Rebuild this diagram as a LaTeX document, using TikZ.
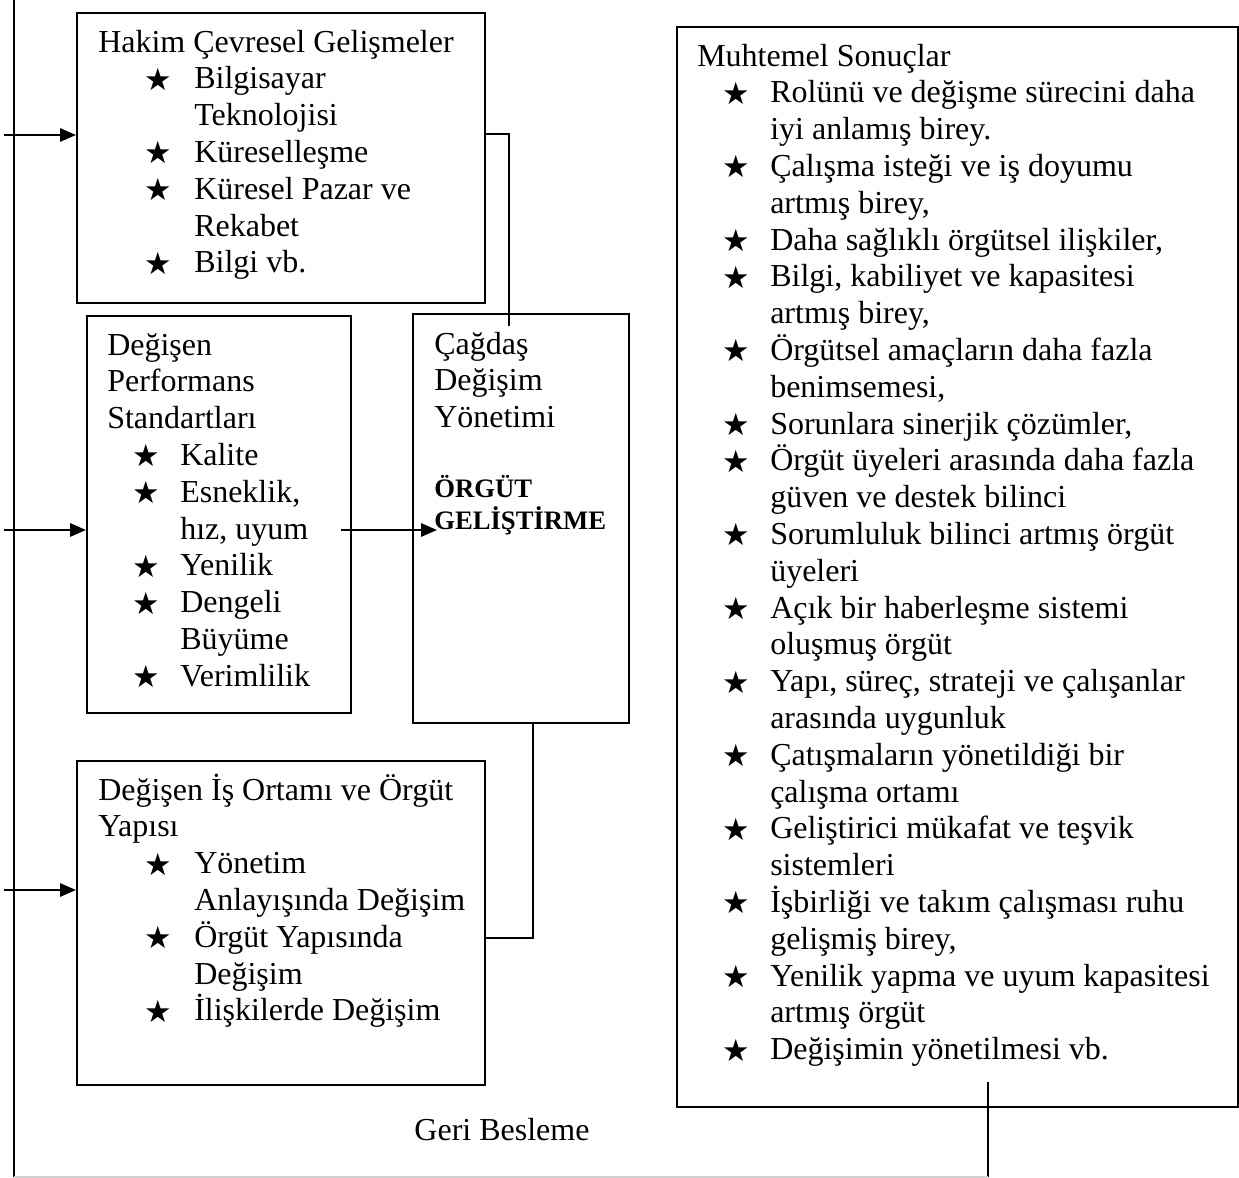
\documentclass[tikz,border=0pt]{standalone}
\usepackage{fontspec}
\setmainfont{Liberation Serif}
\newfontfamily\starfont{DejaVu Sans}
\usetikzlibrary{arrows.meta,fit}
\newcommand\bitem[5]{\node[bul] (#1s) at (#2,#4-9.5) {★};\node[txt] (#1) at (#3,#4) {#5};}
\newcommand\citem[4]{\node[txt] (#1) at (#2,#3) {#4};}
\begin{document}
\begin{tikzpicture}[x=0.75pt,y=-0.75pt,
  box/.style={draw, line width=1.5pt, inner sep=0pt},
  txt/.style={anchor=base west, inner sep=0pt, font=\fontsize{24}{27.6}\selectfont},
  btxt/.style={anchor=base west, inner sep=0pt, font=\fontsize{20}{23}\selectfont\bfseries},
  bul/.style={anchor=center, inner sep=0pt, font=\starfont\fontsize{23}{23}\selectfont},
  conn/.style={line width=1.5pt},
  arr/.style={line width=1.5pt, -{Triangle[length=12pt,width=10pt]}},
]
\useasboundingbox (0,0) rectangle (1239,1178);

% boxes
\node[box, fit={(77,13) (485,303)}] (hakim) {};
\node[box, fit={(87,316) (351,713)}] (perf) {};
\node[box, fit={(413,314) (629,723)}] (cagdas) {};
\node[box, fit={(77,761) (485,1085)}] (isort) {};
\node[box, fit={(677,27) (1238,1107)}] (muh) {};

% Hakim
\citem{h0}{98}{52}{Hakim Çevresel Gelişmeler}
\bitem{h1}{158.5}{194}{88.8}{Bilgisayar}
\citem{h2}{194}{125.6}{Teknolojisi}
\bitem{h3}{158.5}{194}{162.4}{Küreselleşme}
\bitem{h4}{158.5}{194}{199.2}{Küresel Pazar ve}
\citem{h5}{194}{236}{Rekabet}
\bitem{h6}{158.5}{194}{272.8}{Bilgi vb.}

% Performans
\citem{p0}{107}{355}{Değişen}
\citem{p1}{107}{391.8}{Performans}
\citem{p2}{107}{428.6}{Standartları}
\bitem{p3}{146}{180}{465.4}{Kalite}
\bitem{p4}{146}{180}{502.2}{Esneklik,}
\citem{p5}{180}{539}{hız, uyum}
\bitem{p6}{146}{180}{575.8}{Yenilik}
\bitem{p7}{146}{180}{612.6}{Dengeli}
\citem{p8}{180}{649.4}{Büyüme}
\bitem{p9}{146}{180}{686.2}{Verimlilik}

% Cagdas
\citem{c0}{434}{354}{Çağdaş}
\citem{c1}{434}{390.8}{Değişim}
\citem{c2}{434}{427.6}{Yönetimi}
\node[btxt] (c3) at (434,497) {ÖRGÜT};
\node[btxt] (c4) at (434,529) {GELİŞTİRME};

% Is ortami
\citem{i0}{98}{800}{Değişen İş Ortamı ve Örgüt}
\citem{i1}{98}{836.8}{Yapısı}
\bitem{i2}{158.5}{194}{873.6}{Yönetim}
\citem{i3}{194}{910.4}{Anlayışında Değişim}
\bitem{i4}{158.5}{194}{947.2}{Örgüt Yapısında}
\citem{i5}{194}{984}{Değişim}
\bitem{i6}{158.5}{194}{1020.8}{İlişkilerde Değişim}

% Muhtemel
\citem{m0}{697}{66}{Muhtemel Sonuçlar}
\bitem{m1}{736}{770}{102.8}{Rolünü ve değişme sürecini daha}
\citem{m2}{770}{139.6}{iyi anlamış birey.}
\bitem{m3}{736}{770}{176.4}{Çalışma isteği ve iş doyumu}
\citem{m4}{770}{213.2}{artmış birey,}
\bitem{m5}{736}{770}{250}{Daha sağlıklı örgütsel ilişkiler,}
\bitem{m6}{736}{770}{286.8}{Bilgi, kabiliyet ve kapasitesi}
\citem{m7}{770}{323.6}{artmış birey,}
\bitem{m8}{736}{770}{360.4}{Örgütsel amaçların daha fazla}
\citem{m9}{770}{397.2}{benimsemesi,}
\bitem{m10}{736}{770}{434}{Sorunlara sinerjik çözümler,}
\bitem{m11}{736}{770}{470.8}{Örgüt üyeleri arasında daha fazla}
\citem{m12}{770}{507.6}{güven ve destek bilinci}
\bitem{m13}{736}{770}{544.4}{Sorumluluk bilinci artmış örgüt}
\citem{m14}{770}{581.2}{üyeleri}
\bitem{m15}{736}{770}{618}{Açık bir haberleşme sistemi}
\citem{m16}{770}{654.8}{oluşmuş örgüt}
\bitem{m17}{736}{770}{691.6}{Yapı, süreç, strateji ve çalışanlar}
\citem{m18}{770}{728.4}{arasında uygunluk}
\bitem{m19}{736}{770}{765.2}{Çatışmaların yönetildiği bir}
\citem{m20}{770}{802}{çalışma ortamı}
\bitem{m21}{736}{770}{838.8}{Geliştirici mükafat ve teşvik}
\citem{m22}{770}{875.6}{sistemleri}
\bitem{m23}{736}{770}{912.4}{İşbirliği ve takım çalışması ruhu}
\citem{m24}{770}{949.2}{gelişmiş birey,}
\bitem{m25}{736}{770}{986}{Yenilik yapma ve uyum kapasitesi}
\citem{m26}{770}{1022.8}{artmış örgüt}
\bitem{m27}{736}{770}{1059.6}{Değişimin yönetilmesi vb.}

\node[anchor=base, inner sep=0pt, font=\fontsize{24}{27.6}\selectfont] (geri) at (502,1140) {Geri Besleme};

% feedback lines
\coordinate (fbtop) at (14,0);
\coordinate (fbbot) at (14,1176.5);
\coordinate (fbright) at (988,1176.5);
\coordinate (muhdrop) at (988,1082);
\draw[conn] (fbtop) -- (fbbot);
\draw[conn] (muhdrop) -- (fbright);
\draw[line width=1.5pt, black!18] (fbright) -- (fbbot);

% input arrows
\coordinate (a1) at (4,135);
\coordinate (a2) at (4,530);
\coordinate (a3) at (4,890);
\draw[arr] (a1) -- (hakim.west |- a1);
\draw[arr] (a2) -- (perf.west |- a2);
\draw[arr] (a3) -- (isort.west |- a3);

% hakim -> cagdas
\coordinate (hk1) at (509,134);
\coordinate (hk2) at (509,326);
\draw[conn] (hakim.east |- hk1) -- (hk1) -- (hk2);

% perf -> cagdas
\coordinate (pa) at (341,530);
\coordinate (pb) at (437,530);
\draw[arr] (pa) -- (pb);

% cagdas -> is ortami
\coordinate (cb) at (533,938);
\draw[conn] (cagdas.south -| cb) -- (cb) -- (isort.east |- cb);
\end{tikzpicture}
\end{document}
